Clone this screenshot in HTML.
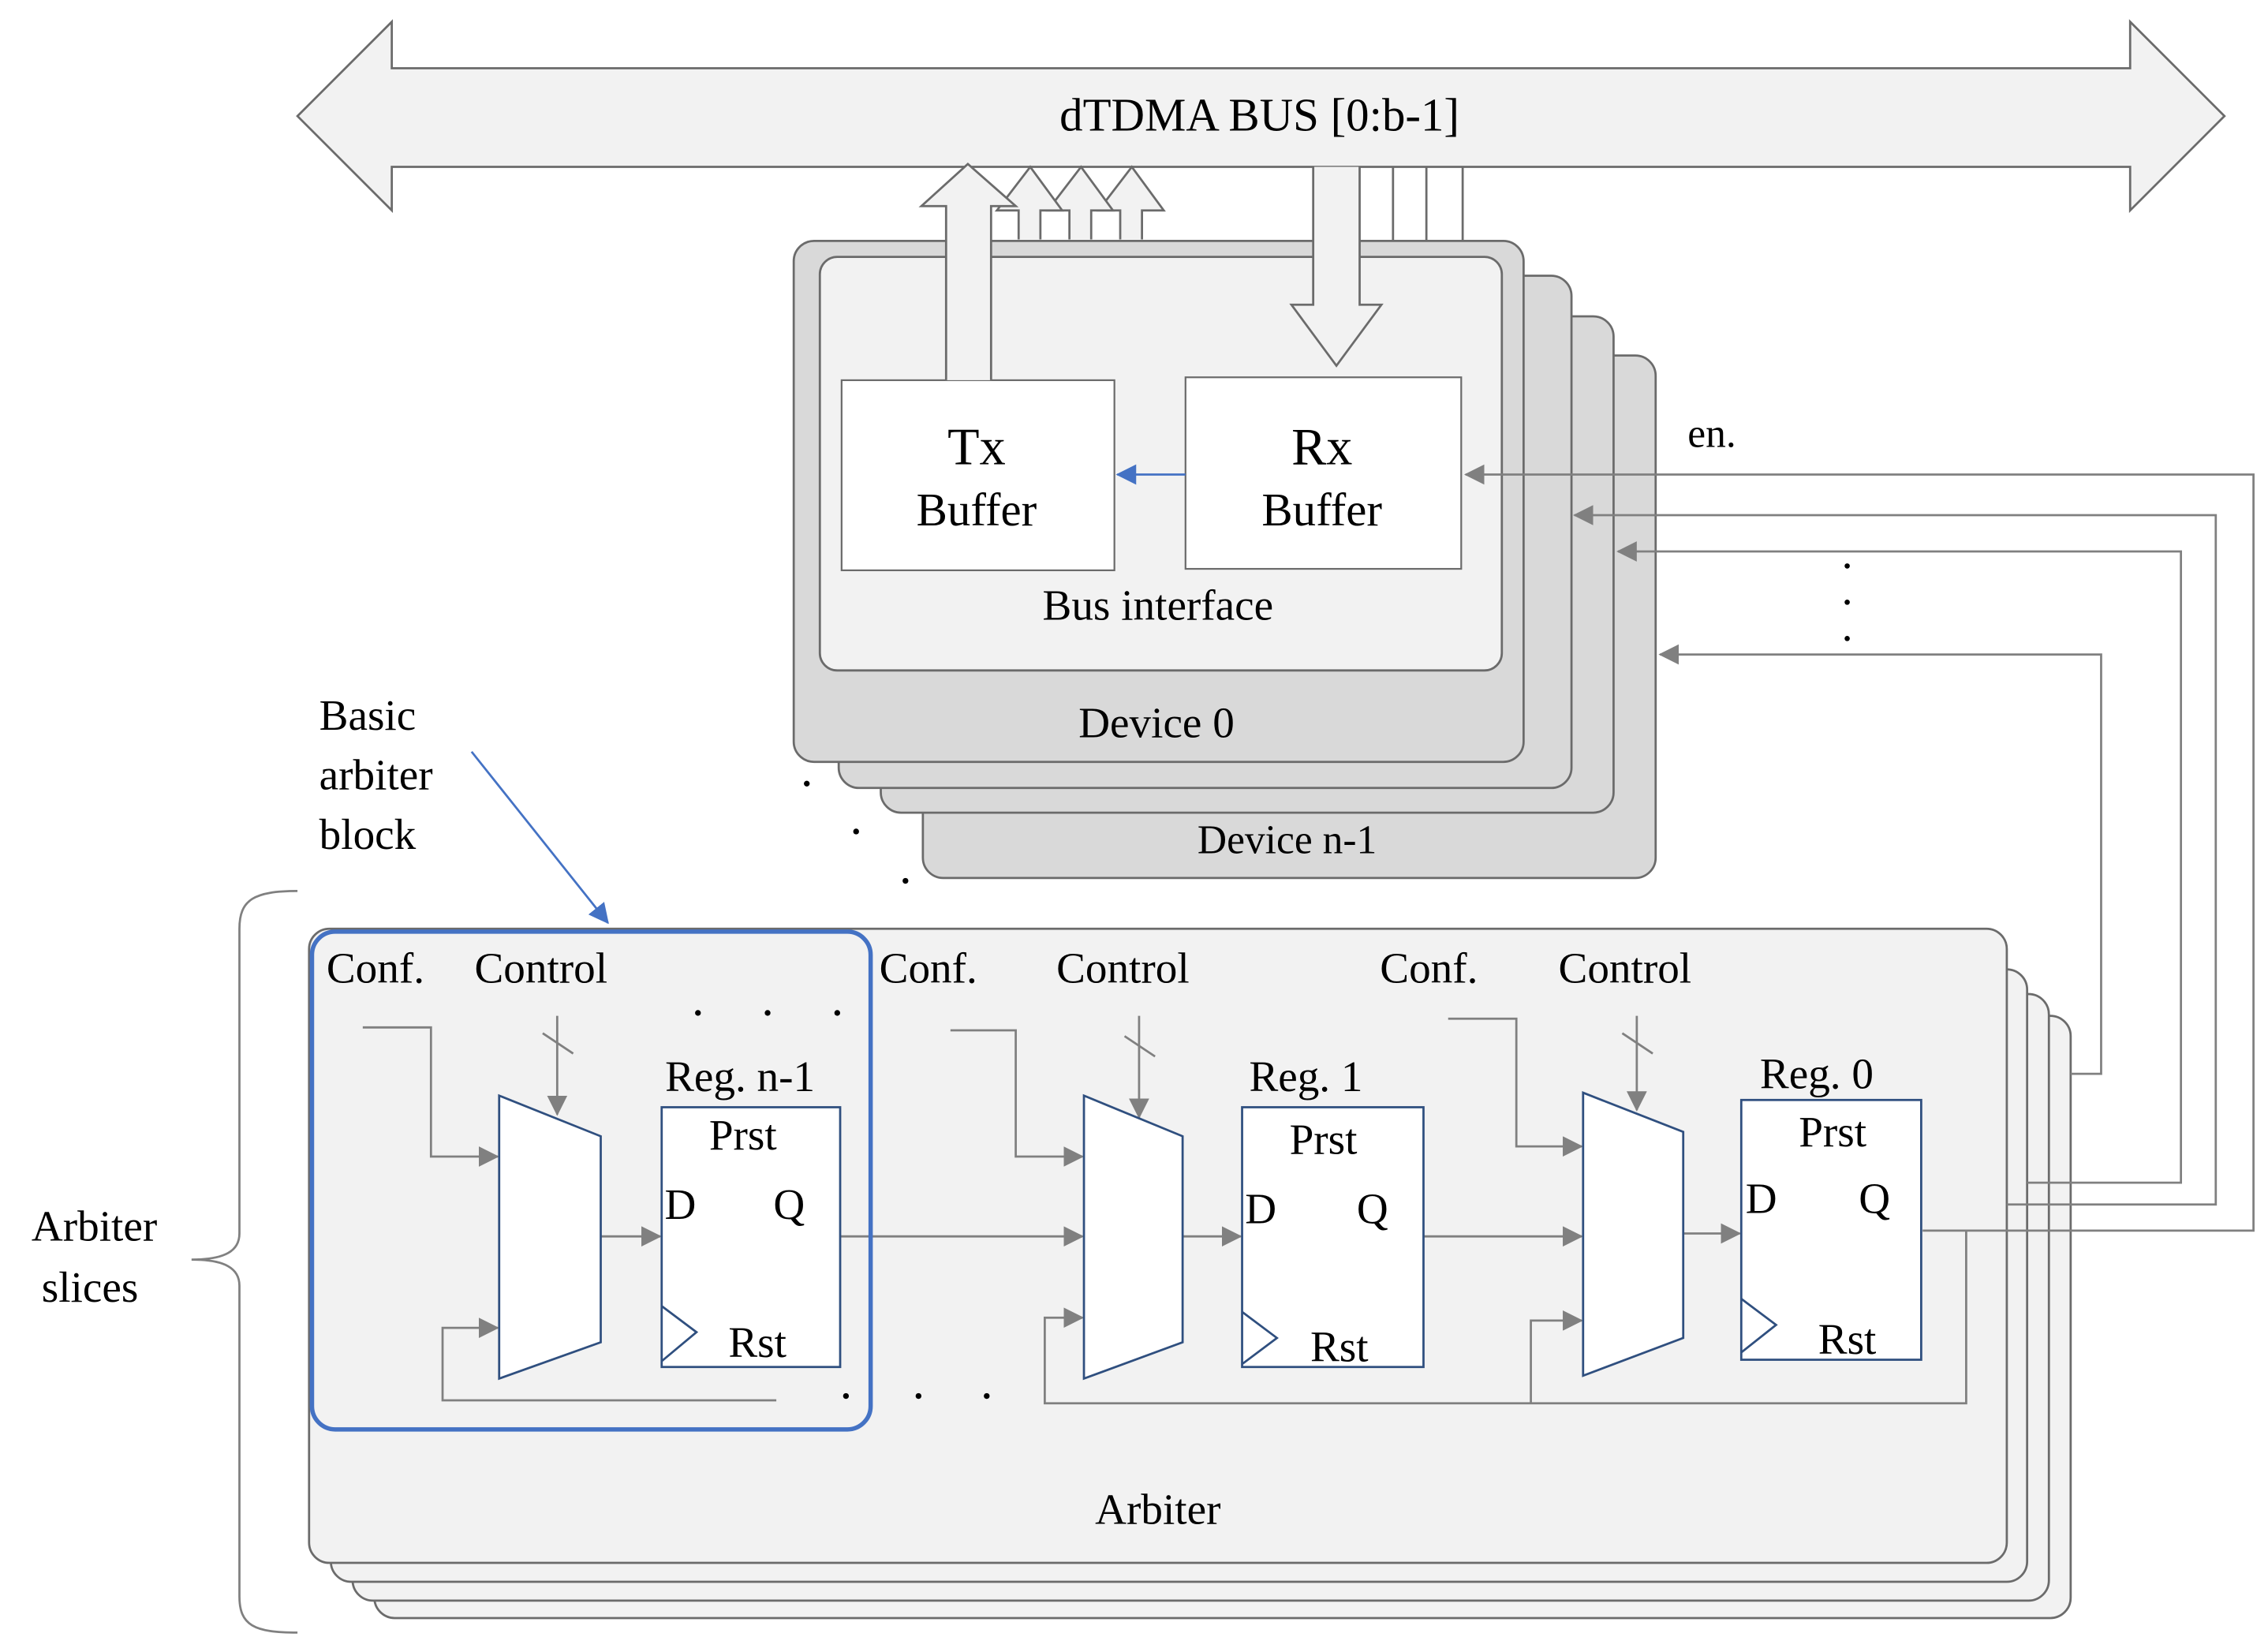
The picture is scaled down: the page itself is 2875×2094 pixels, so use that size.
<!DOCTYPE html>
<html><head><meta charset="utf-8"><style>
html,body{margin:0;padding:0;background:#fff;}
svg{display:block;}
text{font-family:"Liberation Serif",serif;fill:#000;}
</style></head><body>
<svg width="2875" height="2094" viewBox="0 0 1563 1138.4" xmlns="http://www.w3.org/2000/svg">
<defs>
<marker id="ga2" markerWidth="14" markerHeight="14" refX="13" refY="7" orient="auto" markerUnits="userSpaceOnUse"><path d="M0,0 L14,7 L0,14 z" fill="#808080"/></marker>
<marker id="ba" markerWidth="14" markerHeight="14" refX="13" refY="7" orient="auto" markerUnits="userSpaceOnUse"><path d="M0,0 L14,7 L0,14 z" fill="#4472c4"/></marker>
</defs>
<path d="M205,80 L270,15 L270,47 L1468,47 L1468,15 L1533,80 L1468,145 L1468,115 L270,115 L270,145 Z" fill="#f2f2f2" stroke="#6b6b6b" stroke-width="1.5"/>
<text x="868" y="90" font-size="32" text-anchor="middle">dTDMA BUS [0:b-1]</text>
<g fill="#f2f2f2" stroke="#6b6b6b" stroke-width="1.5">
<path d="M772,165 L772,145 L757,145 L780,115 L802,145 L787,145 L787,165"/>
<path d="M737,165 L737,145 L722,145 L745,115 L767,145 L752,145 L752,165"/>
<path d="M702,165 L702,145 L687,145 L710,115 L732,145 L717,145 L717,165"/>
</g>
<rect x="636" y="245" width="505" height="360" rx="14" fill="#d9d9d9" stroke="#6b6b6b" stroke-width="1.5"/>
<rect x="607" y="218" width="505" height="342" rx="14" fill="#d9d9d9" stroke="#6b6b6b" stroke-width="1.5"/>
<rect x="578" y="190" width="505" height="353" rx="14" fill="#d9d9d9" stroke="#6b6b6b" stroke-width="1.5"/>
<rect x="547" y="166" width="503" height="359" rx="14" fill="#d9d9d9" stroke="#6b6b6b" stroke-width="1.5"/>
<text x="887" y="588" font-size="28" text-anchor="middle">Device n-1</text>
<g stroke="#6b6b6b" stroke-width="1.5"><line x1="960" y1="115" x2="960" y2="166"/><line x1="983" y1="115" x2="983" y2="166"/><line x1="1008" y1="115" x2="1008" y2="166"/></g>
<rect x="565" y="177" width="470" height="285" rx="12" fill="#f2f2f2" stroke="#6b6b6b" stroke-width="1.5"/>
<text x="797" y="508" font-size="30" text-anchor="middle">Device 0</text>
<rect x="580" y="262" width="188" height="131" fill="#fff" stroke="#6b6b6b" stroke-width="1.2"/>
<rect x="817" y="260" width="190" height="132" fill="#fff" stroke="#6b6b6b" stroke-width="1.2"/>
<text x="673" y="320" font-size="36" text-anchor="middle">Tx</text>
<text x="673" y="362" font-size="32" text-anchor="middle">Buffer</text>
<text x="911" y="320" font-size="36" text-anchor="middle">Rx</text>
<text x="911" y="362" font-size="32" text-anchor="middle">Buffer</text>
<text x="798" y="427" font-size="30" text-anchor="middle">Bus interface</text>
<line x1="817" y1="327" x2="770" y2="327" stroke="#4472c4" stroke-width="1.5" marker-end="url(#ba)"/>
<path d="M652,262 L652,142 L635,142 L667,113 L700,142 L683,142 L683,262" fill="#f2f2f2" stroke="#6b6b6b" stroke-width="1.5"/>
<path d="M905,115 L905,210 L890,210 L921,252 L952,210 L937,210 L937,115" fill="#f2f2f2" stroke="#6b6b6b" stroke-width="1.5"/>
<text x="1163" y="308" font-size="28">en.</text>
<g fill="#000"><circle cx="1273" cy="390" r="1.8"/><circle cx="1273" cy="415" r="1.8"/><circle cx="1273" cy="440" r="1.8"/>
<circle cx="556" cy="540" r="2"/><circle cx="590" cy="573" r="2"/><circle cx="624" cy="607" r="2"/></g>
<rect x="258" y="700" width="1169" height="415" rx="14" fill="#f2f2f2" stroke="#6b6b6b" stroke-width="1.5"/>
<rect x="243" y="685" width="1169" height="418" rx="14" fill="#f2f2f2" stroke="#6b6b6b" stroke-width="1.5"/>
<rect x="228" y="668" width="1169" height="422" rx="14" fill="#f2f2f2" stroke="#6b6b6b" stroke-width="1.5"/>
<rect x="213" y="640" width="1170" height="437" rx="14" fill="#f2f2f2" stroke="#6b6b6b" stroke-width="1.5"/>
<text x="798" y="1050" font-size="30" text-anchor="middle">Arbiter</text>
<g fill="none" stroke="#808080" stroke-width="1.5">
<polyline points="1325,848 1553,848 1553,327 1010,327" marker-end="url(#ga2)"/>
<polyline points="1383,830 1527,830 1527,355 1085,355" marker-end="url(#ga2)"/>
<polyline points="1397,815 1503,815 1503,380 1115,380" marker-end="url(#ga2)"/>
<polyline points="1427,740 1448,740 1448,451 1144,451" marker-end="url(#ga2)"/>
<polyline points="250,708 297,708 297,797 343,797" marker-end="url(#ga2)"/>
<polyline points="384,700 384,768" marker-end="url(#ga2)"/>
<polyline points="535,965 305,965 305,915 343,915" marker-end="url(#ga2)"/>
<polyline points="414,852 455,852" marker-end="url(#ga2)"/>
<polyline points="579,852 746,852" marker-end="url(#ga2)"/>
<polyline points="655,710 700,710 700,797 746,797" marker-end="url(#ga2)"/>
<polyline points="785,700 785,770" marker-end="url(#ga2)"/>
<polyline points="1355,848 1355,967 720,967 720,908 746,908" marker-end="url(#ga2)"/>
<polyline points="815,852 855,852" marker-end="url(#ga2)"/>
<polyline points="981,852 1090,852" marker-end="url(#ga2)"/>
<polyline points="998,702 1045,702 1045,790 1090,790" marker-end="url(#ga2)"/>
<polyline points="1128,700 1128,765" marker-end="url(#ga2)"/>
<polyline points="1055,967 1055,910 1090,910" marker-end="url(#ga2)"/>
<polyline points="1160,850 1199,850" marker-end="url(#ga2)"/>
<line x1="374" y1="712" x2="395" y2="726"/><line x1="775" y1="714" x2="796" y2="728"/><line x1="1118" y1="712" x2="1139" y2="726"/>
</g>
<g fill="#fff" stroke="#2f4f7f" stroke-width="1.5">
<path d="M344,755 L414,783 L414,925 L344,950 Z"/>
<rect x="456" y="763" width="123" height="179"/>
<path d="M747,755 L815,783 L815,925 L747,950 Z"/>
<rect x="856" y="763" width="125" height="179"/>
<path d="M1091,753 L1160,780 L1160,922 L1091,948 Z"/>
<rect x="1200" y="758" width="124" height="179"/>
</g>
<g fill="none" stroke="#2f4f7f" stroke-width="1.5">
<polyline points="456,900 480,918 456,938"/>
<polyline points="856,904 880,922 856,940"/>
<polyline points="1200,895 1224,913 1200,932"/>
</g>
<g font-size="30">
<text x="225" y="677">Conf.</text><text x="327" y="677">Control</text>
<text x="606" y="677">Conf.</text><text x="728" y="677">Control</text>
<text x="951" y="677">Conf.</text><text x="1074" y="677">Control</text>
<text x="510" y="752" text-anchor="middle">Reg. n-1</text>
<text x="900" y="752" text-anchor="middle">Reg. 1</text>
<text x="1252" y="750" text-anchor="middle">Reg. 0</text>
<text x="512" y="792" text-anchor="middle">Prst</text>
<text x="912" y="795" text-anchor="middle">Prst</text>
<text x="1263" y="790" text-anchor="middle">Prst</text>
<text x="458" y="840">D</text><text x="533" y="840">Q</text>
<text x="858" y="843">D</text><text x="935" y="843">Q</text>
<text x="1203" y="836">D</text><text x="1281" y="836">Q</text>
<text x="522" y="935" text-anchor="middle">Rst</text>
<text x="923" y="938" text-anchor="middle">Rst</text>
<text x="1273" y="933" text-anchor="middle">Rst</text>
</g>
<g fill="#000"><circle cx="481" cy="698" r="2"/><circle cx="529" cy="698" r="2"/><circle cx="577" cy="698" r="2"/>
<circle cx="583" cy="962" r="2"/><circle cx="633" cy="962" r="2"/><circle cx="680" cy="962" r="2"/></g>
<rect x="215" y="642" width="385" height="343" rx="16" fill="none" stroke="#4472c4" stroke-width="3"/>
<line x1="325" y1="518" x2="419" y2="636" stroke="#4472c4" stroke-width="1.5" marker-end="url(#ba)"/>
<g font-size="30"><text x="220" y="503">Basic</text><text x="220" y="544">arbiter</text><text x="220" y="585">block</text>
<text x="65" y="855" text-anchor="middle">Arbiter</text><text x="62" y="897" text-anchor="middle">slices</text></g>
<path d="M205,614 C175,614 165,620 165,640 L165,850 C165,862 155,868 132,868 C155,868 165,874 165,886 L165,1100 C165,1120 175,1125 205,1125" fill="none" stroke="#808080" stroke-width="1.5"/>
</svg>
</body></html>
